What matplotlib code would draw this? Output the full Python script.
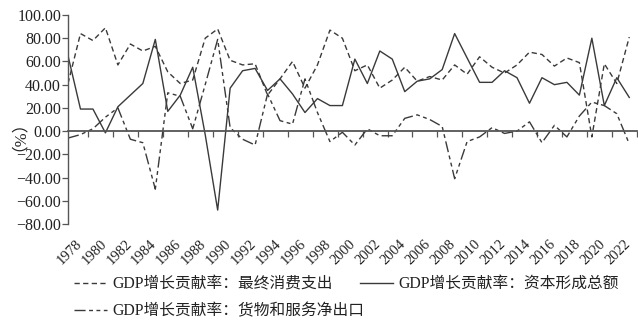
import matplotlib
matplotlib.use("Agg")
import matplotlib.pyplot as plt
import matplotlib.transforms as mtransforms
import numpy as np

years = list(range(1978, 2024))
consumption = [41, 84, 78, 89, 57, 75, 69, 73, 51, 41, 44, 80, 88, 61, 57, 58,
               31, 45, 60, 37, 57, 87, 80, 52, 57, 37, 44, 55, 43, 47, 44, 57,
               49, 64, 55, 50, 57, 68, 66, 56, 63, 59, -5, 58, 41, 81]
capital = [65, 19, 19, -1.5, 21, 31, 41, 79, 17, 31, 55, -3, -68, 37, 52, 54,
           35, 45, 32, 16, 28, 22, 22, 62, 41, 69, 62, 34, 43, 45, 53, 84,
           63, 42, 42, 52, 46, 24, 46, 40, 42, 31, 80, 22, 46, 29]
net_exports = [-6, -3, 2, 12, 20, -7, -10, -50, 33, 30, 2, 40, 79, 3, -7, -12,
               32, 9, 6, 45, 16, -9, -1, -12, 2, -4, -4, 11, 14, 10, 4, -41,
               -9, -5, 3, -2, 0, 8, -10, 5, -5, 13, 25, 22, 15, -11]
label_years = [str(y) for y in range(1978, 2023, 2)]
yticks = list(range(-80, 101, 20))
names = ["GDP增长贡献率：最终消费支出", "GDP增长贡献率：资本形成总额",
         "GDP增长贡献率：货物和服务净出口"]

W, H = 638, 325
fig = plt.figure(figsize=(W / 100, H / 100), dpi=100)
ax = fig.add_axes([68 / W, 1 - 224 / H, (637 - 68) / W, (224 - 15) / H])

x = np.arange(len(years))
col = "#3a3a3a"
l1, = ax.plot(x, consumption, color=col, lw=1.0, linestyle=(0, (3.8, 2.4)))
l2, = ax.plot(x, capital, color=col, lw=1.0, linestyle="-")
l3, = ax.plot(x, net_exports, color=col, lw=1.0,
              linestyle=(0, (8, 2.5, 2.8, 2.5, 2.8, 2.5)))

ax.set_xlim(0, 45.62)
ax.set_ylim(-80, 100)

for s in ["top", "right"]:
    ax.spines[s].set_visible(False)
ax.spines["bottom"].set_position(("data", 0))
ax.spines["bottom"].set_color("#555555")
ax.spines["bottom"].set_linewidth(1.3)
ax.spines["left"].set_color("#555555")
ax.spines["left"].set_linewidth(1.0)

ax.set_xticks([1.62 + 2 * k for k in range(23)])
ax.set_xticklabels([])
ax.tick_params(axis="x", direction="out", length=4.5, width=0.9, color="#555555")

ax.set_yticks(yticks)
ax.set_yticklabels([f"{v:.2f}".replace("-", "\u2212") for v in yticks],
                   fontfamily="Liberation Serif", fontsize=11.5, color="#222222")
ax.tick_params(axis="y", direction="out", length=4, width=0.9, pad=1,
               color="#555555")

trans = mtransforms.blended_transform_factory(ax.transData, ax.transAxes)
for lab in label_years:
    i = years.index(int(lab))
    ax.text(i + 0.1, -28 / 209, lab, transform=trans, rotation=45,
            ha="center", va="center", fontfamily="Liberation Serif",
            fontsize=10.5, color="#222222")

fig.text(11 / W, 1 - 127 / H, "（%）", rotation=90, ha="center", va="center",
         fontfamily=["Liberation Serif", "Noto Sans CJK SC"], fontsize=12,
         color="#222222")

prop = {"family": ["Liberation Serif", "Noto Sans CJK SC"], "size": 11.3}
common = dict(frameon=False, handlelength=2.1, handletextpad=0.35,
              borderpad=0, borderaxespad=0, prop=prop, loc="center left")
leg1 = fig.legend([l1, l2], [names[0], names[1]], ncol=2, columnspacing=1.75,
                  bbox_to_anchor=(74 / W, 1 - 284 / H), **common)
leg2 = fig.legend([l3], [names[2]], ncol=1,
                  bbox_to_anchor=(74 / W, 1 - 311 / H), **common)
for lg in (leg1, leg2):
    for t in lg.get_texts():
        t.set_color("#222222")

fig.savefig("out.png", dpi=100)
